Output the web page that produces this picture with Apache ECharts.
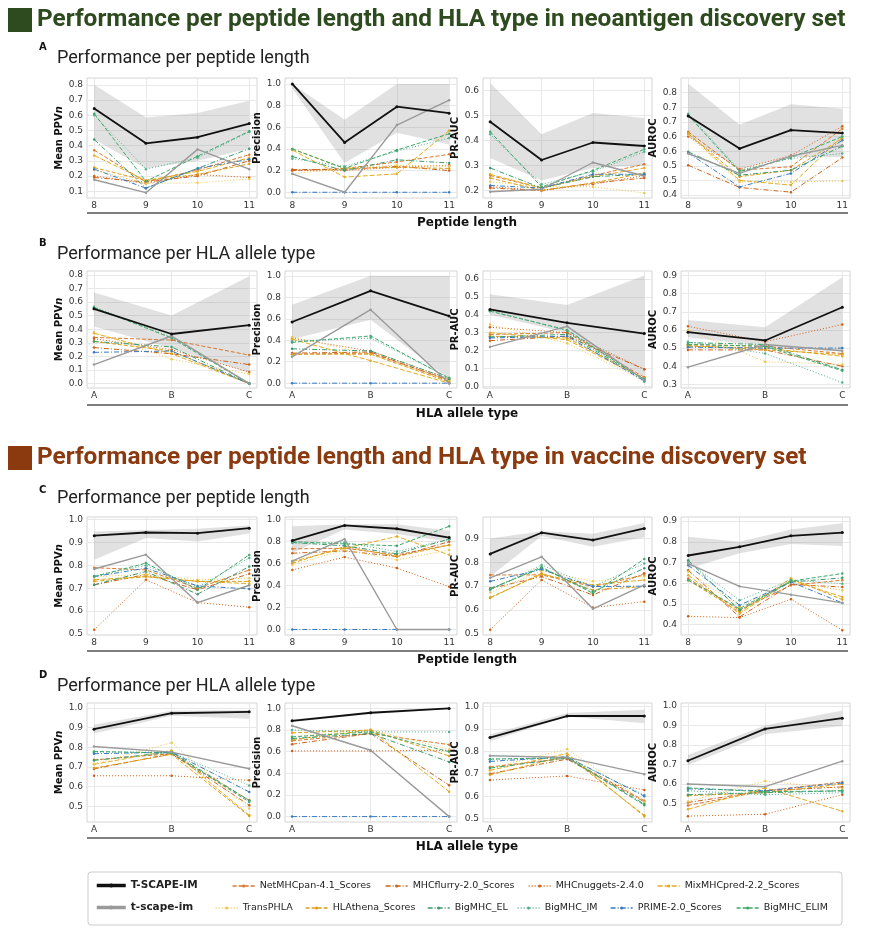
<!DOCTYPE html>
<html><head><meta charset="utf-8">
<script src="https://cdn.jsdelivr.net/npm/echarts@6/dist/echarts.min.js"></script>
<style>html,body{margin:0;padding:0;background:#fff}#c{width:872px;height:930px}</style>
</head><body><div id="c"></div><script>
// ---------------- data ----------------
const methods = ['T-SCAPE-IM','t-scape-im','NetMHCpan-4.1_Scores','MHCflurry-2.0_Scores','MHCnuggets-2.4.0','MixMHCpred-2.2_Scores','TransPHLA','HLAthena_Scores','BigMHC_EL','BigMHC_IM','PRIME-2.0_Scores','BigMHC_ELIM'];
const peptideLengths = [8, 9, 10, 11];
const hlaTypes = ['A', 'B', 'C'];

// tick labels per panel
const ticksA1 = [0.1,0.2,0.3,0.4,0.5,0.6,0.7,0.8];
const ticksPrec = [0,0.2,0.4,0.6,0.8,1.0];
const ticksA3 = [0.2,0.3,0.4,0.5,0.6];
const ticksA4 = [0.40,0.45,0.50,0.55,0.60,0.65,0.70,0.75];
const ticksB1 = [0,0.1,0.2,0.3,0.4,0.5,0.6,0.7,0.8];
const ticksB3 = [0,0.1,0.2,0.3,0.4,0.5,0.6];
const ticksB4 = [0.3,0.4,0.5,0.6,0.7,0.8,0.9];
const ticksC1 = [0.5,0.6,0.7,0.8,0.9,1.0];
const ticksC3 = [0.5,0.6,0.7,0.8,0.9];
const ticksC4 = [0.4,0.5,0.6,0.7,0.8,0.9];
const ticksD = [0.5,0.6,0.7,0.8,0.9,1.0];

// rows follow the order of `methods`
// A: neoantigen set, per peptide length
const neoLenPPV = [
 [0.645,0.415,0.455,0.545],[0.175,0.09,0.375,0.245],[0.37,0.16,0.24,0.34],[0.19,0.16,0.20,0.30],
 [0.20,0.15,0.21,0.19],[0.335,0.17,0.23,0.32],[0.24,0.15,0.155,0.18],[0.255,0.17,0.21,0.28],
 [0.44,0.12,0.25,0.38],[0.60,0.245,0.32,0.49],[0.245,0.12,0.25,0.31],[0.61,0.165,0.33,0.495]];
const neoLenPPVBand = [[0.44,0.25,0.30,0.38],[0.80,0.585,0.615,0.695]];
const neoLenPrec = [
 [1.0,0.46,0.79,0.73],[0.17,0.0,0.62,0.85],[0.20,0.22,0.28,0.35],[0.21,0.21,0.24,0.20],
 [0.20,0.20,0.23,0.25],[0.39,0.14,0.17,0.57],[0.17,0.22,0.25,0.24],[0.40,0.22,0.23,0.22],
 [0.33,0.20,0.30,0.27],[0.31,0.24,0.38,0.50],[0,0,0,0],[0.40,0.22,0.39,0.54]];
const neoLenPrecBand = [[0.96,0.27,0.55,0.44],[1.0,0.67,1.0,1.0]];
const neoLenPR = [
 [0.475,0.322,0.392,0.378],[0.195,0.205,0.312,0.258],[0.26,0.21,0.26,0.305],[0.21,0.20,0.23,0.25],
 [0.215,0.20,0.225,0.26],[0.265,0.21,0.255,0.29],[0.235,0.215,0.215,0.19],[0.25,0.20,0.23,0.27],
 [0.29,0.21,0.255,0.265],[0.425,0.225,0.275,0.355],[0.22,0.21,0.265,0.265],[0.435,0.215,0.28,0.365]];
const neoLenPRBand = [[0.33,0.24,0.29,0.30],[0.63,0.425,0.51,0.49]];
const neoLenROC = [
 [0.67,0.559,0.622,0.612],[0.542,0.474,0.533,0.57],[0.616,0.485,0.497,0.627],[0.502,0.426,0.41,0.528],
 [0.60,0.489,0.535,0.635],[0.61,0.45,0.434,0.60],[0.605,0.445,0.445,0.448],[0.61,0.463,0.485,0.593],
 [0.548,0.468,0.485,0.567],[0.678,0.485,0.525,0.542],[0.544,0.428,0.474,0.587],[0.673,0.48,0.528,0.60]];
const neoLenROCBand = [[0.60,0.49,0.53,0.53],[0.78,0.64,0.71,0.695]];

// B: neoantigen set, per HLA type
const neoHlaPPV = [
 [0.55,0.365,0.43],[0.14,0.35,0.0],[0.34,0.32,0.21],[0.265,0.22,0.14],
 [0.33,0.25,0.085],[0.37,0.22,0.0],[0.38,0.18,0.07],[0.31,0.24,0.0],
 [0.31,0.27,0.0],[0.565,0.34,0.005],[0.23,0.24,0.0],[0.56,0.335,0.0]];
const neoHlaPPVBand = [[0.42,0.26,0.08],[0.67,0.50,0.79]];
const neoHlaPrec = [
 [0.57,0.86,0.625],[0.245,0.685,0.0],[0.27,0.28,0.03],[0.28,0.29,0.02],
 [0.42,0.30,0.04],[0.41,0.21,0.0],[0.43,0.27,0.02],[0.27,0.27,0.01],
 [0.32,0.30,0.04],[0.39,0.42,0.05],[0,0,0],[0.38,0.44,0.045]];
const neoHlaPrecBand = [[0.41,0.59,0.04],[0.73,1.0,1.0]];
const neoHlaPR = [
 [0.43,0.355,0.295],[0.22,0.335,0.035],[0.29,0.30,0.05],[0.255,0.28,0.095],
 [0.33,0.30,0.095],[0.30,0.26,0.04],[0.345,0.24,0.03],[0.28,0.27,0.045],
 [0.275,0.29,0.04],[0.425,0.31,0.025],[0.27,0.28,0.03],[0.42,0.315,0.035]];
const neoHlaPRBand = [[0.40,0.30,0.05],[0.515,0.455,0.62]];
const neoHlaROC = [
 [0.588,0.542,0.725],[0.395,0.52,0.485],[0.52,0.51,0.47],[0.49,0.49,0.40],
 [0.62,0.535,0.63],[0.51,0.50,0.455],[0.60,0.425,0.41],[0.515,0.49,0.465],
 [0.53,0.52,0.38],[0.535,0.47,0.31],[0.505,0.50,0.50],[0.52,0.51,0.375]];
const neoHlaROCBand = [[0.56,0.51,0.48],[0.655,0.615,0.89]];

// C: vaccine set, per peptide length
const vacLenPPV = [
 [0.93,0.944,0.941,0.963],[0.784,0.847,0.637,0.713],[0.79,0.78,0.70,0.78],[0.715,0.76,0.693,0.763],
 [0.518,0.737,0.637,0.617],[0.737,0.751,0.73,0.72],[0.751,0.76,0.737,0.744],[0.73,0.751,0.73,0.73],
 [0.715,0.773,0.674,0.795],[0.754,0.80,0.705,0.832],[0.751,0.788,0.71,0.697],[0.751,0.81,0.693,0.846]];
const vacLenPPVBand = [[0.825,0.92,0.905,0.94],[0.949,0.955,0.96,0.975]];
const vacLenPrec = [
 [0.81,0.948,0.918,0.838],[0.625,0.823,0.0,0.0],[0.735,0.74,0.68,0.77],[0.695,0.716,0.665,0.80],
 [0.543,0.66,0.56,0.39],[0.62,0.74,0.848,0.68],[0.59,0.725,0.634,0.725],[0.604,0.756,0.665,0.77],
 [0.793,0.762,0.69,0.823],[0.787,0.793,0.71,0.823],[0,0,0,0],[0.80,0.78,0.762,0.94]];
const vacLenPrecBand = [[0.70,0.91,0.87,0.80],[0.94,0.96,0.96,0.90]];
const vacLenPR = [
 [0.835,0.924,0.893,0.942],[0.735,0.823,0.605,0.705],[0.747,0.747,0.698,0.747],[0.69,0.74,0.663,0.754],
 [0.517,0.726,0.61,0.635],[0.653,0.75,0.705,0.726],[0.673,0.765,0.72,0.74],[0.65,0.754,0.684,0.698],
 [0.69,0.775,0.677,0.775],[0.684,0.789,0.698,0.795],[0.72,0.77,0.698,0.70],[0.687,0.78,0.67,0.814]];
const vacLenPRBand = [[0.74,0.91,0.865,0.905],[0.90,0.93,0.92,0.965]];
const vacLenROC = [
 [0.734,0.776,0.829,0.845],[0.695,0.585,0.545,0.505],[0.623,0.47,0.59,0.615],[0.663,0.437,0.594,0.582],
 [0.44,0.434,0.523,0.373],[0.639,0.453,0.615,0.534],[0.655,0.485,0.606,0.566],[0.615,0.461,0.623,0.521],
 [0.711,0.47,0.606,0.626],[0.703,0.518,0.615,0.598],[0.687,0.494,0.606,0.505],[0.615,0.477,0.61,0.647]];
const vacLenROCBand = [[0.671,0.745,0.79,0.78],[0.824,0.80,0.86,0.89]];

// D: vaccine set, per HLA type
const vacHlaPPV = [
 [0.892,0.973,0.98],[0.804,0.775,0.691],[0.736,0.767,0.53],[0.69,0.767,0.505],
 [0.655,0.655,0.632],[0.713,0.784,0.454],[0.716,0.823,0.488],[0.694,0.764,0.45],
 [0.733,0.775,0.53],[0.775,0.775,0.606],[0.767,0.775,0.573],[0.779,0.77,0.522]];
const vacHlaPPVBand = [[0.87,0.96,0.945],[0.915,0.985,0.99]];
const vacHlaPrec = [
 [0.885,0.96,1.0],[0.84,0.613,0.0],[0.70,0.768,0.665],[0.669,0.768,0.29],
 [0.607,0.607,0.613],[0.712,0.80,0.23],[0.737,0.805,0.62],[0.774,0.80,0.56],
 [0.721,0.768,0.505],[0.80,0.783,0.783],[0,0,0],[0.737,0.783,0.60]];
const vacHlaPrecBand = [[0.875,0.945,0.995],[0.90,0.965,1.0]];
const vacHlaPR = [
 [0.861,0.957,0.957],[0.78,0.773,0.698],[0.73,0.77,0.58],[0.70,0.765,0.575],
 [0.672,0.69,0.628],[0.715,0.79,0.51],[0.725,0.81,0.575],[0.695,0.78,0.515],
 [0.725,0.77,0.565],[0.765,0.77,0.605],[0.755,0.775,0.60],[0.765,0.772,0.56]];
const vacHlaPRBand = [[0.845,0.955,0.925],[0.875,0.97,0.985]];
const vacHlaROC = [
 [0.719,0.882,0.937],[0.60,0.586,0.717],[0.49,0.565,0.61],[0.505,0.565,0.585],
 [0.435,0.445,0.545],[0.47,0.58,0.46],[0.51,0.615,0.575],[0.54,0.555,0.60],
 [0.545,0.555,0.565],[0.565,0.545,0.555],[0.575,0.565,0.605],[0.58,0.56,0.565]];
const vacHlaROCBand = [[0.697,0.855,0.897],[0.748,0.90,0.976]];

// ---------------- styles / layout ----------------
const lineStyles = [
 {color:'#111111', width:1.8, type:'solid', size:3},
 {color:'#9a9a9a', width:1.4, type:'solid', size:2.5},
 {color:'#d9782d', width:1, type:[4,2], size:2.5},
 {color:'#c8641e', width:1, type:[5,2,1,2], size:2.5},
 {color:'#d35f15', width:1, type:[1,2], size:2.5},
 {color:'#e2ad22', width:1, type:[5,2], size:2.5},
 {color:'#eec84e', width:1, type:[1,2], size:2.5},
 {color:'#dc9f1a', width:1, type:[4,2], size:2.5},
 {color:'#3d9b6e', width:1, type:[5,2,1,2], size:2.5},
 {color:'#52b08f', width:1, type:[1,2], size:2.5},
 {color:'#3a7bbf', width:1, type:[5,2,1,2], size:2.5},
 {color:'#3fa86b', width:1, type:[4,2], size:2.5}
];
const colLeft = [87, 285, 483, 681], colW = [170, 172, 169, 169];
const rowTop = [78, 271, 517, 703], rowH = [120, 117, 118, 119];
const ppvName = '{a|Mean PPV}{b|n}';
const panels = [
 {r:0,c:0,x:'len',d:neoLenPPV,b:neoLenPPVBand,min:0.055,max:0.845,t:ticksA1,n:ppvName},
 {r:0,c:1,x:'len',d:neoLenPrec,b:neoLenPrecBand,min:-0.053,max:1.055,t:ticksPrec,n:'Precision'},
 {r:0,c:2,x:'len',d:neoLenPR,b:neoLenPRBand,min:0.17,max:0.65,t:ticksA3,n:'PR-AUC'},
 {r:0,c:3,x:'len',d:neoLenROC,b:neoLenROCBand,min:0.39,max:0.80,t:ticksA4,n:'AUROC'},
 {r:1,c:0,x:'hla',d:neoHlaPPV,b:neoHlaPPVBand,min:-0.032,max:0.828,t:ticksB1,n:ppvName},
 {r:1,c:1,x:'hla',d:neoHlaPrec,b:neoHlaPrecBand,min:-0.045,max:1.045,t:ticksPrec,n:'Precision'},
 {r:1,c:2,x:'hla',d:neoHlaPR,b:neoHlaPRBand,min:-0.01,max:0.645,t:ticksB3,n:'PR-AUC'},
 {r:1,c:3,x:'hla',d:neoHlaROC,b:neoHlaROCBand,min:0.28,max:0.925,t:ticksB4,n:'AUROC'},
 {r:2,c:0,x:'len',d:vacLenPPV,b:vacLenPPVBand,min:0.495,max:1.012,t:ticksC1,n:ppvName},
 {r:2,c:1,x:'len',d:vacLenPrec,b:vacLenPrecBand,min:-0.05,max:1.025,t:ticksPrec,n:'Precision'},
 {r:2,c:2,x:'len',d:vacLenPR,b:vacLenPRBand,min:0.495,max:0.99,t:ticksC3,n:'PR-AUC'},
 {r:2,c:3,x:'len',d:vacLenROC,b:vacLenROCBand,min:0.35,max:0.92,t:ticksC4,n:'AUROC'},
 {r:3,c:0,x:'hla',d:vacHlaPPV,b:vacHlaPPVBand,min:0.42,max:1.025,t:ticksD,n:ppvName},
 {r:3,c:1,x:'hla',d:vacHlaPrec,b:vacHlaPrecBand,min:-0.05,max:1.05,t:ticksPrec,n:'Precision'},
 {r:3,c:2,x:'hla',d:vacHlaPR,b:vacHlaPRBand,min:0.485,max:1.015,t:ticksD,n:'PR-AUC'},
 {r:3,c:3,x:'hla',d:vacHlaROC,b:vacHlaROCBand,min:0.405,max:1.015,t:ticksD,n:'AUROC'}
];

const FONT = 'DejaVu Sans';
const grids = [], xAxes = [], yAxes = [], series = [];
panels.forEach((p, gi) => {
  grids.push({left: colLeft[p.c], top: rowTop[p.r], width: colW[p.c], height: rowH[p.r],
    show: true, borderColor: '#d4d4d4', borderWidth: 1, containLabel: false});
  const xs = p.x === 'len' ? peptideLengths : hlaTypes.map((_, i) => i);
  xAxes.push({type: 'value', gridIndex: gi,
    min: p.x === 'len' ? 7.86 : -0.09, max: p.x === 'len' ? 11.15 : 2.1,
    axisLine: {show: false}, axisTick: {show: false, customValues: xs},
    axisLabel: {customValues: xs, fontSize: 9, color: '#333', margin: 3, fontFamily: FONT,
      formatter: v => p.x === 'len' ? String(v) : hlaTypes[Math.round(v)]},
    splitLine: {show: true, lineStyle: {color: '#e8e8e8', width: 1}}});
  yAxes.push({type: 'value', gridIndex: gi, min: p.min, max: p.max,
    axisLine: {show: false}, axisTick: {show: false, customValues: p.t},
    axisLabel: {customValues: p.t, fontSize: 9, color: '#333', margin: 4, fontFamily: FONT,
      formatter: v => v.toFixed(1)},
    splitLine: {show: true, lineStyle: {color: '#e8e8e8', width: 1}},
    name: p.n, nameLocation: 'middle', nameGap: 16,
    nameTextStyle: {fontFamily: FONT, fontWeight: 'bold', fontSize: 10, color: '#111',
      rich: {a: {fontFamily: FONT, fontWeight: 'bold', fontSize: 10, color: '#111'},
             b: {fontFamily: FONT, fontWeight: 'bold', fontStyle: 'italic', fontSize: 10, color: '#111'}}}});
  // confidence band of T-SCAPE-IM, drawn as one polygon through the axis scales
  const lo = p.b[0], hi = p.b[1];
  series.push({type: 'custom', name: 'band', xAxisIndex: gi, yAxisIndex: gi, silent: true, z: 1, clip: true,
    data: xs.map((x, i) => [x, lo[i], hi[i]]), encode: {x: 0, y: [1, 2]},
    renderItem: (params, api) => {
      if (params.dataIndex !== 0) return null;
      const pts = [];
      for (let i = 0; i < xs.length; i++) pts.push(api.coord([xs[i], hi[i]]));
      for (let i = xs.length - 1; i >= 0; i--) pts.push(api.coord([xs[i], lo[i]]));
      return {type: 'polygon', shape: {points: pts}, style: {fill: 'rgba(140,140,140,0.26)'}};
    }});
  const order = [2,3,4,5,6,7,8,9,10,11,1,0];
  order.forEach(mi => {
    const st = lineStyles[mi];
    series.push({type: 'line', name: methods[mi], xAxisIndex: gi, yAxisIndex: gi,
      data: xs.map((x, i) => [x, p.d[mi][i]]),
      symbol: 'circle', symbolSize: st.size, showSymbol: true,
      itemStyle: {color: st.color},
      lineStyle: {color: st.color, width: st.width, type: st.type},
      z: mi < 2 ? 4 : 3, emphasis: {disabled: true}, animation: false});
  });
});

const legendPos = [
 [0, 95, 880], [1, 95, 902],
 [2, 232, 881], [3, 385, 881], [4, 528, 881], [5, 657, 881],
 [6, 215, 903], [7, 305, 903], [8, 427, 903], [9, 517, 903], [10, 610, 903], [11, 736, 903]
];
const legends = legendPos.map(([mi, l, t]) => {
  const main = mi < 2;
  const st = lineStyles[mi];
  return {data: [methods[mi]], left: l, top: t, padding: 0, selectedMode: false,
    itemWidth: main ? 29 : 22, itemHeight: main ? 5 : 4,
    lineStyle: {color: st.color, width: main ? 3.5 : 1.3, type: st.type},
    itemStyle: {color: st.color},
    textStyle: {fontFamily: FONT, fontSize: main ? 10.5 : 9.5, fontWeight: main ? 'bold' : 'normal', color: '#222'}};
});

function txt(x, y, s, font, fill, align) {
  return {type: 'text', x: x, y: y, silent: true,
    style: {text: s, font: font, fill: fill, align: align || 'left', verticalAlign: 'middle'}};
}
const subFont = '18px Roboto';
const titleFont = 'bold 24.4px Roboto';
const graphic = [
  {type: 'rect', shape: {x: 8, y: 8, width: 24, height: 24}, style: {fill: '#2e4a1f'}},
  txt(37, 20, 'Performance per peptide length and HLA type in neoantigen discovery set', titleFont, '#2e4a1f'),
  txt(39, 47, 'A', 'bold 10px ' + FONT, '#111'),
  txt(57, 58, 'Performance per peptide length', subFont, '#222'),
  {type: 'line', shape: {x1: 87, y1: 213, x2: 848, y2: 213}, style: {stroke: '#555', lineWidth: 1.5}},
  txt(467, 223, 'Peptide length', 'bold 12px ' + FONT, '#111', 'center'),
  txt(39, 243, 'B', 'bold 10px ' + FONT, '#111'),
  txt(57, 254, 'Performance per HLA allele type', subFont, '#222'),
  {type: 'line', shape: {x1: 87, y1: 405, x2: 848, y2: 405}, style: {stroke: '#555', lineWidth: 1.5}},
  txt(467, 414, 'HLA allele type', 'bold 12px ' + FONT, '#111', 'center'),
  {type: 'rect', shape: {x: 8, y: 446, width: 24, height: 24}, style: {fill: '#8b3a0f'}},
  txt(37, 458, 'Performance per peptide length and HLA type in vaccine discovery set', titleFont, '#8b3a0f'),
  txt(39, 490, 'C', 'bold 10px ' + FONT, '#111'),
  txt(57, 498, 'Performance per peptide length', subFont, '#222'),
  {type: 'line', shape: {x1: 87, y1: 651, x2: 848, y2: 651}, style: {stroke: '#555', lineWidth: 1.5}},
  txt(467, 660, 'Peptide length', 'bold 12px ' + FONT, '#111', 'center'),
  txt(39, 675, 'D', 'bold 10px ' + FONT, '#111'),
  txt(57, 686, 'Performance per HLA allele type', subFont, '#222'),
  {type: 'line', shape: {x1: 87, y1: 838, x2: 848, y2: 838}, style: {stroke: '#555', lineWidth: 1.5}},
  txt(467, 847, 'HLA allele type', 'bold 12px ' + FONT, '#111', 'center'),
  {type: 'rect', shape: {x: 88, y: 872, width: 754, height: 53, r: 3}, style: {fill: 'none', stroke: '#cccccc', lineWidth: 1}, z: -1}
];

const chart = echarts.init(document.getElementById('c'), null, {renderer: 'canvas'});
chart.setOption({
  backgroundColor: '#ffffff', animation: false,
  grid: grids, xAxis: xAxes, yAxis: yAxes, series: series,
  legend: legends, graphic: graphic
});
</script></body></html>
